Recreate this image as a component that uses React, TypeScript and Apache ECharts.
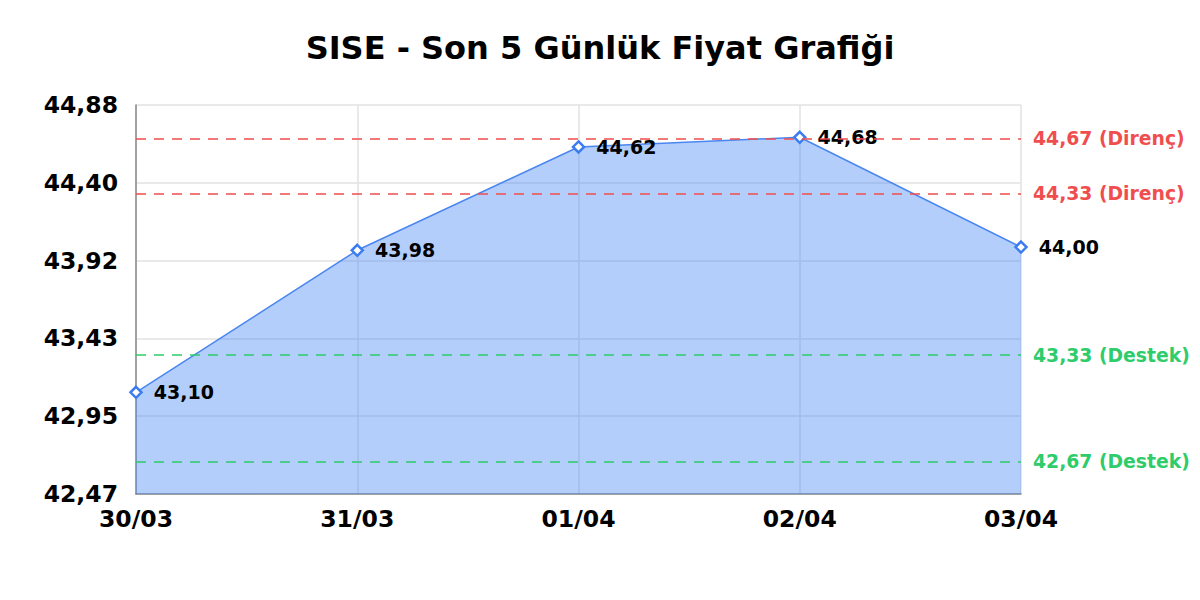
import { useEffect, useRef } from 'react';
import * as echarts from 'echarts';

const days = ['30/03', '31/03', '01/04', '02/04', '03/04'];
const prices = [43.1, 43.98, 44.62, 44.68, 44.0];
const resistance = [44.67, 44.33];
const support = [43.33, 42.67];
const yMin = 42.47;
const yMax = 44.88;
const yStep = 0.482;

const FONT = '"DejaVu Sans", sans-serif';
const fmt = (v: number) => v.toFixed(2).replace('.', ',');

export default function App() {
  const ref = useRef<HTMLDivElement>(null);

  useEffect(() => {
    if (!ref.current) return;
    const chart = echarts.init(ref.current, undefined, { renderer: 'svg' });

    // horizontal support / resistance level with its label at the right end
    const level = (v: number, kind: string, color: string) => ({
      yAxis: v,
      lineStyle: { color, type: [10, 8] as any, width: 1.5 },
      label: {
        show: true,
        position: 'end' as const,
        distance: 12,
        formatter: `${fmt(v)} (${kind})`,
        color,
        fontFamily: FONT,
        fontWeight: 'bold' as const,
        fontSize: 18.8,
      },
    });

    chart.setOption({
      animation: false,
      backgroundColor: '#fff',
      title: {
        text: 'SISE - Son 5 Günlük Fiyat Grafiği',
        left: 'center',
        top: 27,
        textStyle: { fontFamily: FONT, fontWeight: 'bold', fontSize: 32, color: '#000' },
      },
      grid: { left: 136, right: 179, top: 105, bottom: 106 },
      xAxis: {
        type: 'category',
        data: days,
        boundaryGap: false,
        axisLine: { lineStyle: { color: '#888', width: 1.5 } },
        axisTick: { show: false },
        axisLabel: {
          color: '#000',
          fontFamily: FONT,
          fontWeight: 'bold',
          fontSize: 23.5,
          margin: 13,
        },
        splitLine: { show: true, lineStyle: { color: '#e2e2e2', width: 1.5 } },
      },
      yAxis: {
        type: 'value',
        min: yMin,
        max: yMax,
        interval: yStep,
        axisLine: { show: true, lineStyle: { color: '#888', width: 1.5 } },
        axisTick: { show: false },
        axisLabel: {
          color: '#000',
          fontFamily: FONT,
          fontWeight: 'bold',
          fontSize: 23.5,
          margin: 18,
          formatter: (v: number) => fmt(v),
        },
        splitLine: { lineStyle: { color: '#e2e2e2', width: 1.5 } },
      },
      series: [
        {
          type: 'line',
          data: prices,
          symbol: 'diamond',
          symbolSize: 11,
          lineStyle: { color: '#4a86f0', width: 1.5 },
          itemStyle: { color: '#fff', borderColor: '#3b7cf0', borderWidth: 2.5 },
          areaStyle: { color: 'rgba(66,133,244,0.4)', opacity: 1 },
          label: {
            show: true,
            position: 'right',
            distance: 11,
            formatter: (p: any) => fmt(p.value),
            color: '#000',
            fontFamily: FONT,
            fontWeight: 'bold',
            fontSize: 19,
          },
          markLine: {
            silent: true,
            symbol: 'none',
            data: [
              ...resistance.map((v) => level(v, 'Direnç', '#f04e4e')),
              ...support.map((v) => level(v, 'Destek', '#2ecc6a')),
            ],
          },
          z: 3,
        },
      ],
    });

    return () => chart.dispose();
  }, []);

  return <div ref={ref} style={{ width: 1200, height: 600, margin: -8 }} />;
}
